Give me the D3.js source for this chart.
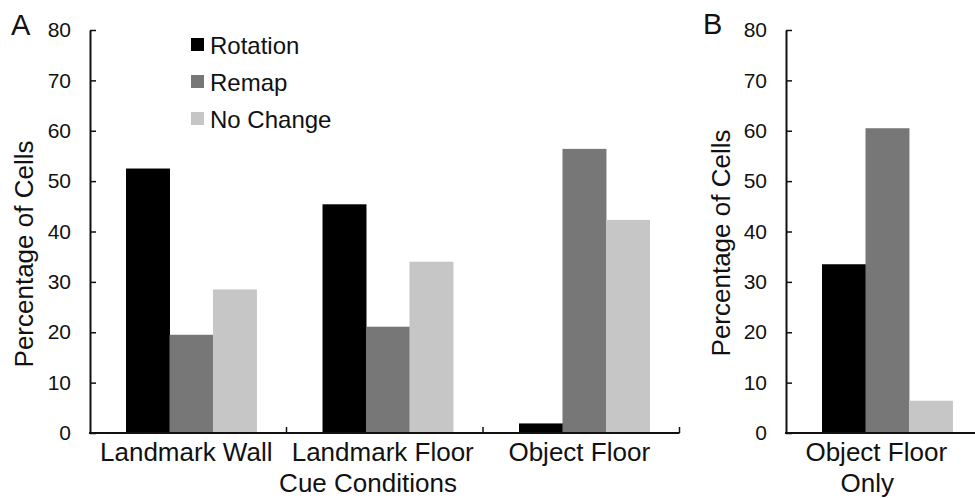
<!DOCTYPE html>
<html>
<head>
<meta charset="utf-8">
<script src="https://cdn.jsdelivr.net/npm/d3@7/dist/d3.min.js"></script>
<style>
	body { margin: 0; background: #fff; }
	text { font-family: "Liberation Sans", Arial, sans-serif; fill: #111; }
</style>
</head>
<body>
<div id="chart"></div>
<script>
	"use strict";

	var categories = ["Landmark Wall", "Landmark Floor", "Object Floor"];
	var seriesNames = ["Rotation", "Remap", "No Change"];
	var rotation = [52.5, 45.4, 1.9];
	var remap = [19.5, 21.1, 56.4];
	var noChange = [28.5, 34.0, 42.3];

	var categoriesB = ["Object Floor Only"];
	var categoryLinesB = [["Object Floor", "Only"]];
	var rotationB = [33.5];
	var remapB = [60.5];
	var noChangeB = [6.4];

	var yTicks = [0, 10, 20, 30, 40, 50, 60, 70, 80];
	var colors = ["#000000", "#777777", "#c6c6c6"];

	var width = 975;
	var height = 498;
	var y0 = 433;
	var y1 = 30;
	var bandW = 196.5;

	var svg = d3.select("#chart")
				.append("svg")
				.attr("width", width)
				.attr("height", height);

	var y = d3.scaleLinear()
			.domain([0, 80])
			.range([y0, y1]);

	var x1 = d3.scaleBand()
			.domain(seriesNames)
			.range([0, bandW])
			.paddingInner(0)
			.paddingOuter(0.76)
			.align(0.545);

	var color = d3.scaleOrdinal()
			.domain(seriesNames)
			.range(colors);

	function panel(cats, series, left, titleX, titleY, letter, letterX, letterY){

		var x0 = d3.scaleBand()
				.domain(cats)
				.range([left, left + bandW * cats.length])
				.padding(0);

		var rows = cats.map(function(c, i){
			return {cat: c, values: seriesNames.map(function(s, j){ return {name: s, value: series[j][i]}; })};
		});

		var groups = svg.selectAll("g.group-" + letter)
				.data(rows)
				.enter()
				.append("g")
				.attr("class", "group-" + letter)
				.attr("transform", function(d){ return "translate(" + x0(d.cat) + ",0)"; });

		groups.selectAll("rect")
				.data(function(d){ return d.values; })
				.enter()
				.append("rect")
				.attr("x", function(d){ return x1(d.name); })
				.attr("y", function(d){ return y(d.value); })
				.attr("width", x1.bandwidth() + 0.5)
				.attr("height", function(d){ return y0 - y(d.value); })
				.style("fill", function(d){ return color(d.name); });

		// y axis, ticks pointing inward
		var yAxis = svg.append("g")
				.attr("transform", "translate(" + left + ",0)")
				.call(d3.axisLeft(y)
					.tickValues(yTicks)
					.tickSizeInner(-6)
					.tickSizeOuter(0)
					.tickPadding(19));

		yAxis.select(".domain").attr("stroke", "#111").attr("stroke-width", 2);
		yAxis.selectAll(".tick line").attr("stroke", "#111").attr("stroke-width", 1.5);
		yAxis.selectAll(".tick text")
				.style("font-size", "21px")
				.style("font-family", "Liberation Sans, Arial, sans-serif")
				.attr("fill", "#111");

		// x axis with ticks on category boundaries
		svg.append("line")
				.attr("x1", left - 1)
				.attr("x2", x0.range()[1])
				.attr("y1", y0)
				.attr("y2", y0)
				.attr("stroke", "#111")
				.attr("stroke-width", 2);

		svg.selectAll("line.xtick-" + letter)
				.data(cats)
				.enter()
				.append("line")
				.attr("class", "xtick-" + letter)
				.attr("x1", function(d){ return x0(d) + x0.bandwidth(); })
				.attr("x2", function(d){ return x0(d) + x0.bandwidth(); })
				.attr("y1", y0)
				.attr("y2", y0 - 6)
				.attr("stroke", "#111")
				.attr("stroke-width", 1.5);

		svg.append("text")
				.attr("transform", "translate(" + titleX + "," + titleY + ") rotate(-90)")
				.attr("text-anchor", "middle")
				.style("font-size", "26px")
				.text("Percentage of Cells");

		svg.append("text")
				.attr("x", letterX)
				.attr("y", letterY)
				.style("font-size", "29px")
				.text(letter);

		return x0;
	}

	var xA = panel(categories, [rotation, remap, noChange], 90, 33, 254, "A", 11, 35);
	var xB = panel(categoriesB, [rotationB, remapB, noChangeB], 786, 730, 243, "B", 703, 34);

	svg.selectAll("text.catA")
			.data(categories)
			.enter()
			.append("text")
			.attr("class", "catA")
			.attr("x", function(d){ return xA(d) + xA.bandwidth() / 2 - 2; })
			.attr("y", 461)
			.attr("text-anchor", "middle")
			.style("font-size", "26px")
			.text(function(d){ return d; });

	svg.append("text")
			.attr("x", 368)
			.attr("y", 492)
			.attr("text-anchor", "middle")
			.style("font-size", "26px")
			.text("Cue Conditions");

	var catB = svg.selectAll("text.catB")
			.data(categoriesB)
			.enter()
			.append("text")
			.attr("class", "catB")
			.attr("text-anchor", "middle")
			.style("font-size", "26px");

	catB.selectAll("tspan")
			.data(function(d, i){ return categoryLinesB[i].map(function(t){ return {cat: d, t: t}; }); })
			.enter()
			.append("tspan")
			.attr("x", function(d, i){ return xB(d.cat) + xB.bandwidth() / 2 - (i ? 17 : 8); })
			.attr("y", function(d, i){ return 461 + i * 31; })
			.text(function(d){ return d.t; });

	// legend
	var legend = svg.selectAll("g.legend")
			.data(seriesNames)
			.enter()
			.append("g")
			.attr("class", "legend")
			.attr("transform", function(d, i){ return "translate(191," + (54 + i * 37) + ")"; });

	legend.append("rect")
			.attr("x", 0)
			.attr("y", -16)
			.attr("width", 13)
			.attr("height", 13)
			.style("fill", function(d){ return color(d); });

	legend.append("text")
			.attr("x", 19)
			.attr("y", 0)
			.style("font-size", "24px")
			.text(function(d){ return d; });
</script>
</body>
</html>
